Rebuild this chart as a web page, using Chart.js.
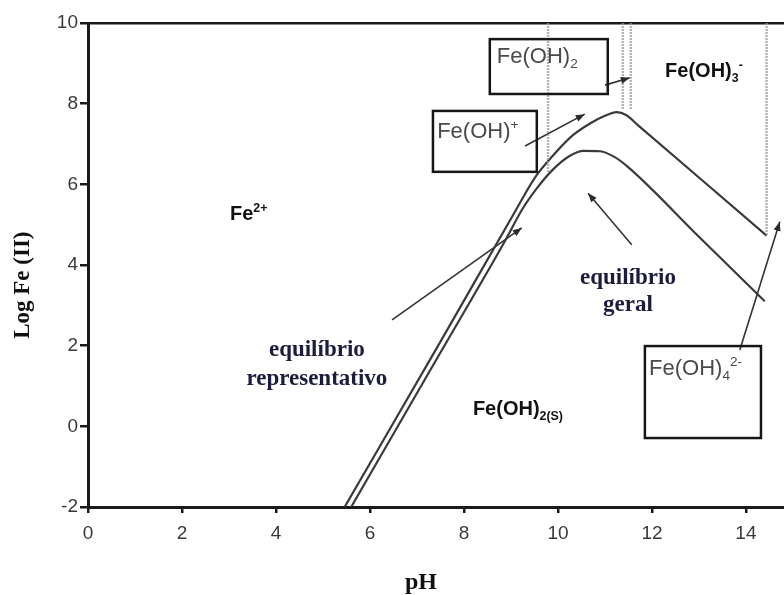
<!DOCTYPE html>
<html>
<head>
<meta charset="utf-8">
<title>Log Fe(II) x pH</title>
<script src="https://cdn.jsdelivr.net/npm/chart.js@4/dist/chart.umd.min.js"></script>
<style>
  body { margin: 0; background: #fff; }
  canvas { display: block; }
</style>
</head>
<body>
<canvas id="grafico" width="784" height="595"></canvas>
<script>
// eixos
const ticksPh = [0, 2, 4, 6, 8, 10, 12, 14]
const ticksLog = [-2, 0, 2, 4, 6, 8, 10]

// curva de cima (pH, log Fe)
const phCima = [5.46, 7.5, 9.1, 9.5, 9.9, 10.3, 10.7, 11.0, 11.25, 11.45, 11.7, 13.0, 14.44]
const logCima = [-2, 2.1, 5.35, 6.15, 6.72, 7.2, 7.52, 7.7, 7.79, 7.72, 7.47, 6.17, 4.73]

// curva de baixo
const phBaixo = [5.6, 7.5, 8.9, 9.25, 9.55, 9.87, 10.23, 10.55, 10.9, 11.2, 11.5, 13.0, 14.4]
const logBaixo = [-2, 1.83, 4.65, 5.4, 5.9, 6.34, 6.69, 6.83, 6.82, 6.68, 6.42, 4.7, 3.1]

// linhas verticais pontilhadas (vao do topo ate o log indicado)
const phLimites = [9.79, 11.38, 11.55, 14.44]
const logLimites = [6.3, 7.84, 7.84, 4.73]

// setas: pH cauda, log cauda, pH ponta, log ponta
const setas = [
    [11.0, 8.46, 11.53, 8.64],
    [9.30, 6.95, 10.57, 7.74],
    [11.57, 4.50, 10.64, 5.78],
    [6.47, 2.64, 9.23, 4.92],
    [13.87, 1.89, 14.72, 5.07]
]

// caixas: pH esq, pH dir, log topo, log base
const caixas = [
    [8.55, 11.06, 9.60, 8.24],
    [7.34, 9.55, 7.82, 6.31],
    [11.85, 14.32, 1.99, -0.29]
]

// textos: pH, log, partes [texto, 0 normal | 1 sub | -1 sup], estilo
const rotulos = [
    [8.70, 9.21, [['Fe(OH)', 0], ['2', 1]], 'caixa'],
    [7.43, 7.35, [['Fe(OH)', 0], ['+', -1]], 'caixa'],
    [11.94, 1.47, [['Fe(OH)', 0], ['4', 1], ['2-', -1]], 'caixa'],
    [12.28, 8.83, [['Fe(OH)', 0], ['3', 1], ['-', -1]], 'negrito'],
    [3.02, 5.29, [['Fe', 0], ['2+', -1]], 'negrito'],
    [8.19, 0.45, [['Fe(OH)', 0], ['2(S)', 1]], 'negrito'],
    [11.49, 3.73, [['equilíbrio', 0]], 'serifa'],
    [11.49, 3.06, [['geral', 0]], 'serifa'],
    [4.87, 1.94, [['equilíbrio', 0]], 'serifa'],
    [4.87, 1.22, [['representativo', 0]], 'serifa']
]

const estilos = {
    caixa: { tam: 22, familia: '"Liberation Sans", Arial, sans-serif', peso: 'normal', cor: '#4a4a4a', alinhar: 'left' },
    negrito: { tam: 20, familia: '"Liberation Sans", Arial, sans-serif', peso: 'bold', cor: '#111', alinhar: 'left' },
    serifa: { tam: 23, familia: '"Liberation Serif", "Times New Roman", serif', peso: 'bold', cor: '#1c1c3c', alinhar: 'center' }
}

function pontos(xs, ys) {
    let lista = []
    for (let i = 0; i < xs.length; i++) {
        lista.push({ x: xs[i], y: ys[i] })
    }
    return lista
}

function textoRico(ctx, px, py, partes, est) {
    ctx.fillStyle = est.cor
    ctx.textBaseline = 'alphabetic'
    ctx.textAlign = 'left'
    let largura = 0
    partes.forEach(p => {
        let t = p[1] === 0 ? est.tam : est.tam * 0.62
        ctx.font = est.peso + ' ' + t + 'px ' + est.familia
        largura += ctx.measureText(p[0]).width
    })
    let cx = est.alinhar === 'center' ? px - largura / 2 : px
    let base = py + est.tam * 0.36
    partes.forEach(p => {
        let t = p[1] === 0 ? est.tam : est.tam * 0.62
        let dy = p[1] === 1 ? est.tam * 0.25 : (p[1] === -1 ? -est.tam * 0.42 : 0)
        ctx.font = est.peso + ' ' + t + 'px ' + est.familia
        ctx.fillText(p[0], cx, base + dy)
        cx += ctx.measureText(p[0]).width
    })
}

const extras = {
    id: 'extras',
    afterDatasetsDraw(chart) {
        const ctx = chart.ctx
        const sx = chart.scales.x
        const sy = chart.scales.y

        ctx.save()
        // caixas
        ctx.strokeStyle = '#161616'
        ctx.lineWidth = 2.5
        caixas.forEach(c => {
            let x1 = sx.getPixelForValue(c[0])
            let x2 = sx.getPixelForValue(c[1])
            let y1 = sy.getPixelForValue(c[2])
            let y2 = sy.getPixelForValue(c[3])
            ctx.strokeRect(x1, y1, x2 - x1, y2 - y1)
        })

        // pontas das setas
        ctx.fillStyle = '#2a2a2a'
        chart.data.datasets.forEach((ds, i) => {
            if (!ds.seta) return
            const pts = chart.getDatasetMeta(i).data
            const a = pts[0], b = pts[1]
            const ang = Math.atan2(b.y - a.y, b.x - a.x)
            ctx.save()
            ctx.translate(b.x, b.y)
            ctx.rotate(ang)
            ctx.beginPath()
            ctx.moveTo(0, 0)
            ctx.lineTo(-9, -3.5)
            ctx.lineTo(-9, 3.5)
            ctx.closePath()
            ctx.fill()
            ctx.restore()
        })

        // textos
        rotulos.forEach(r => {
            textoRico(ctx, sx.getPixelForValue(r[0]), sy.getPixelForValue(r[1]), r[2], estilos[r[3]])
        })
        ctx.restore()
    }
}

let datasets = []

for (let i = 0; i < phLimites.length; i++) {
    datasets.push({
        data: pontos([phLimites[i], phLimites[i]], [10, logLimites[i]]),
        borderColor: 'rgba(150,150,150,0.7)',
        borderWidth: 2.5,
        borderDash: [2, 1]
    })
}

datasets.push({
    data: pontos(phCima, logCima),
    borderColor: '#3a3a3a',
    borderWidth: 2.2,
    cubicInterpolationMode: 'monotone'
})
datasets.push({
    data: pontos(phBaixo, logBaixo),
    borderColor: '#3a3a3a',
    borderWidth: 2.2,
    cubicInterpolationMode: 'monotone'
})

setas.forEach(s => {
    datasets.push({
        seta: true,
        data: pontos([s[0], s[2]], [s[1], s[3]]),
        borderColor: '#333',
        borderWidth: 1.6
    })
})

const nbsp = '\u00a0'

new Chart(document.getElementById('grafico'), {
    type: 'scatter',
    data: { datasets: datasets },
    plugins: [extras],
    options: {
        responsive: false,
        animation: false,
        showLine: true,
        layout: { padding: { top: 23, left: 0, right: 0, bottom: 0 } },
        elements: { point: { radius: 0 } },
        plugins: { legend: { display: false }, tooltip: { enabled: false } },
        scales: {
            x: {
                type: 'linear',
                min: 0,
                max: 14.81,
                afterBuildTicks: (scale) => { scale.ticks = ticksPh.map(v => ({ value: v })) },
                afterFit: (scale) => { scale.height = 88; scale.paddingLeft = 0; scale.paddingRight = 0 },
                grid: { color: 'transparent', tickColor: '#1a1a1a', tickLength: 6, lineWidth: 2.5 },
                border: { color: '#1a1a1a', width: 3 },
                ticks: {
                    padding: 9,
                    maxRotation: 0,
                    color: '#3a3a3a',
                    font: { family: '"Liberation Sans", Arial, sans-serif', size: 19 }
                },
                title: {
                    display: true,
                    text: 'pH' + nbsp.repeat(5),
                    color: '#111',
                    padding: 0,
                    font: { family: '"Liberation Serif", "Times New Roman", serif', size: 24, weight: 'bold', lineHeight: 1 }
                }
            },
            y: {
                min: -2,
                max: 10,
                afterBuildTicks: (scale) => { scale.ticks = ticksLog.map(v => ({ value: v })) },
                afterFit: (scale) => { scale.width = 88; scale.paddingTop = 0; scale.paddingBottom = 0 },
                grid: {
                    color: (c) => c.tick && c.tick.value === 10 ? '#1a1a1a' : 'transparent',
                    tickColor: '#1a1a1a',
                    tickLength: 8,
                    lineWidth: 2.5
                },
                border: { color: '#1a1a1a', width: 3 },
                ticks: {
                    padding: 2,
                    color: '#3a3a3a',
                    font: { family: '"Liberation Sans", Arial, sans-serif', size: 19 }
                },
                title: {
                    display: true,
                    text: 'Log Fe (II)' + nbsp.repeat(7),
                    color: '#111',
                    padding: { top: 9, bottom: 0 },
                    font: { family: '"Liberation Serif", "Times New Roman", serif', size: 23, weight: 'bold' }
                }
            }
        }
    }
})
</script>
</body>
</html>
